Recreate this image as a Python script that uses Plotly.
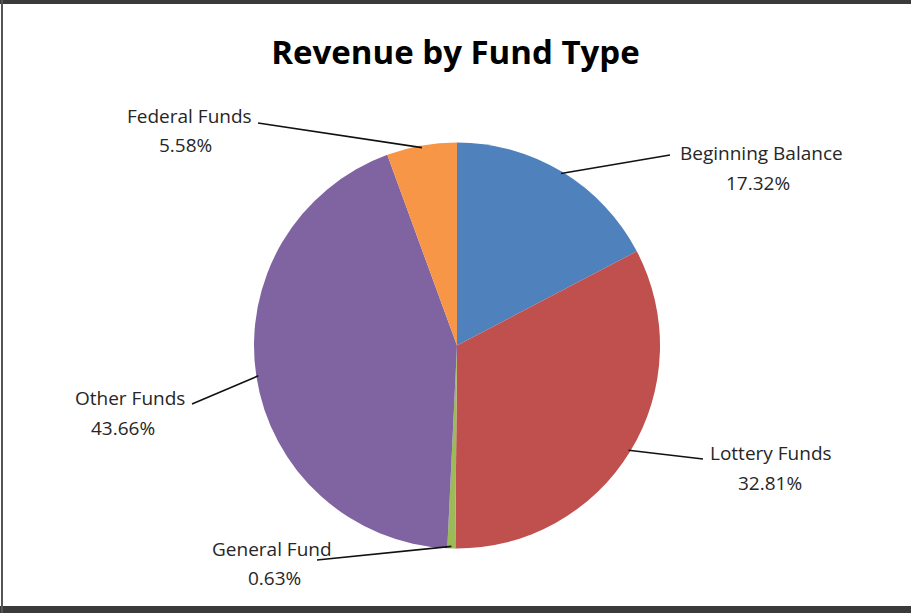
import math
import plotly.graph_objects as go

# Revenue shares by fund type (percent), clockwise from 12 o'clock
categories = ["Beginning Balance", "Lottery Funds", "General Fund", "Other Funds", "Federal Funds"]
shares = [17.32, 32.81, 0.63, 43.66, 5.58]
colors = ["#4F81BD", "#C0504D", "#9BBB59", "#8064A2", "#F79646"]

W, H = 911, 613
CX, CY, R = 457, 345.5, 203  # pie centre and radius in pixels

# Centres of the name line and the percent line of each label, and the
# outer end of each leader line, in pixels
name_pos = {
    "Beginning Balance": (761, 153),
    "Lottery Funds": (771, 453),
    "General Fund": (272, 549),
    "Other Funds": (130, 398),
    "Federal Funds": (189, 116),
}
pct_pos = {
    "Beginning Balance": (758, 183),
    "Lottery Funds": (770, 483),
    "General Fund": (274, 578),
    "Other Funds": (123, 428),
    "Federal Funds": (185, 145),
}
elbow_pos = {
    "Beginning Balance": (670, 155),
    "Lottery Funds": (703, 459),
    "General Fund": (317, 560),
    "Other Funds": (192, 404),
    "Federal Funds": (258, 123),
}

fig = go.Figure(go.Pie(
    labels=categories,
    values=shares,
    marker=dict(colors=colors, line=dict(color="white", width=0)),
    sort=False,
    direction="clockwise",
    rotation=0,
    textinfo="none",
    hoverinfo="label+percent",
    showlegend=False,
    domain=dict(x=[(CX - R) / W, (CX + R) / W], y=[(H - CY - R) / H, (H - CY + R) / H]),
))

shapes = []
annotations = []


def px(x, y):
    return x / W, 1 - y / H


label_font = dict(family="Open Sans", size=19, color="#262626")

cum = 0.0
total = sum(shares)
for name, val in zip(categories, shares):
    mid = (cum + val / 2) / total * 2 * math.pi
    cum += val
    sx = CX + R * 0.99 * math.sin(mid)
    sy = CY - R * 0.99 * math.cos(mid)
    ex, ey = elbow_pos[name]
    x0, y0 = px(sx, sy)
    x1, y1 = px(ex, ey)
    shapes.append(dict(type="line", xref="paper", yref="paper", x0=x0, y0=y0, x1=x1, y1=y1,
                       line=dict(color="#111111", width=1.6)))
    for text, pos in ((name, name_pos[name]), (f"{val:.2f}%", pct_pos[name])):
        ax, ay = px(*pos)
        annotations.append(dict(
            x=ax, y=ay, xref="paper", yref="paper", showarrow=False,
            text=text, font=label_font, xanchor="center", yanchor="middle",
        ))

# Frame lines along the top, left and bottom edges
shapes += [
    dict(type="rect", xref="paper", yref="paper", x0=0, x1=1, y0=1 - 4 / H, y1=1,
         fillcolor="#3a3a3a", line=dict(width=0)),
    dict(type="rect", xref="paper", yref="paper", x0=0, x1=1, y0=0, y1=7 / H,
         fillcolor="#3a3a3a", line=dict(width=0)),
    dict(type="rect", xref="paper", yref="paper", x0=1 / W, x1=3 / W, y0=0, y1=1,
         fillcolor="#555555", line=dict(width=0)),
]

fig.update_layout(
    width=W, height=H,
    margin=dict(l=0, r=0, t=0, b=0),
    paper_bgcolor="white",
    plot_bgcolor="white",
    title=dict(text="<b>Revenue by Fund Type</b>", x=0.5, xanchor="center",
               y=1 - 52 / H, yanchor="middle",
               font=dict(family="Open Sans", size=33, color="#000000")),
    shapes=shapes,
    annotations=annotations,
)

fig.write_html("out.html")
